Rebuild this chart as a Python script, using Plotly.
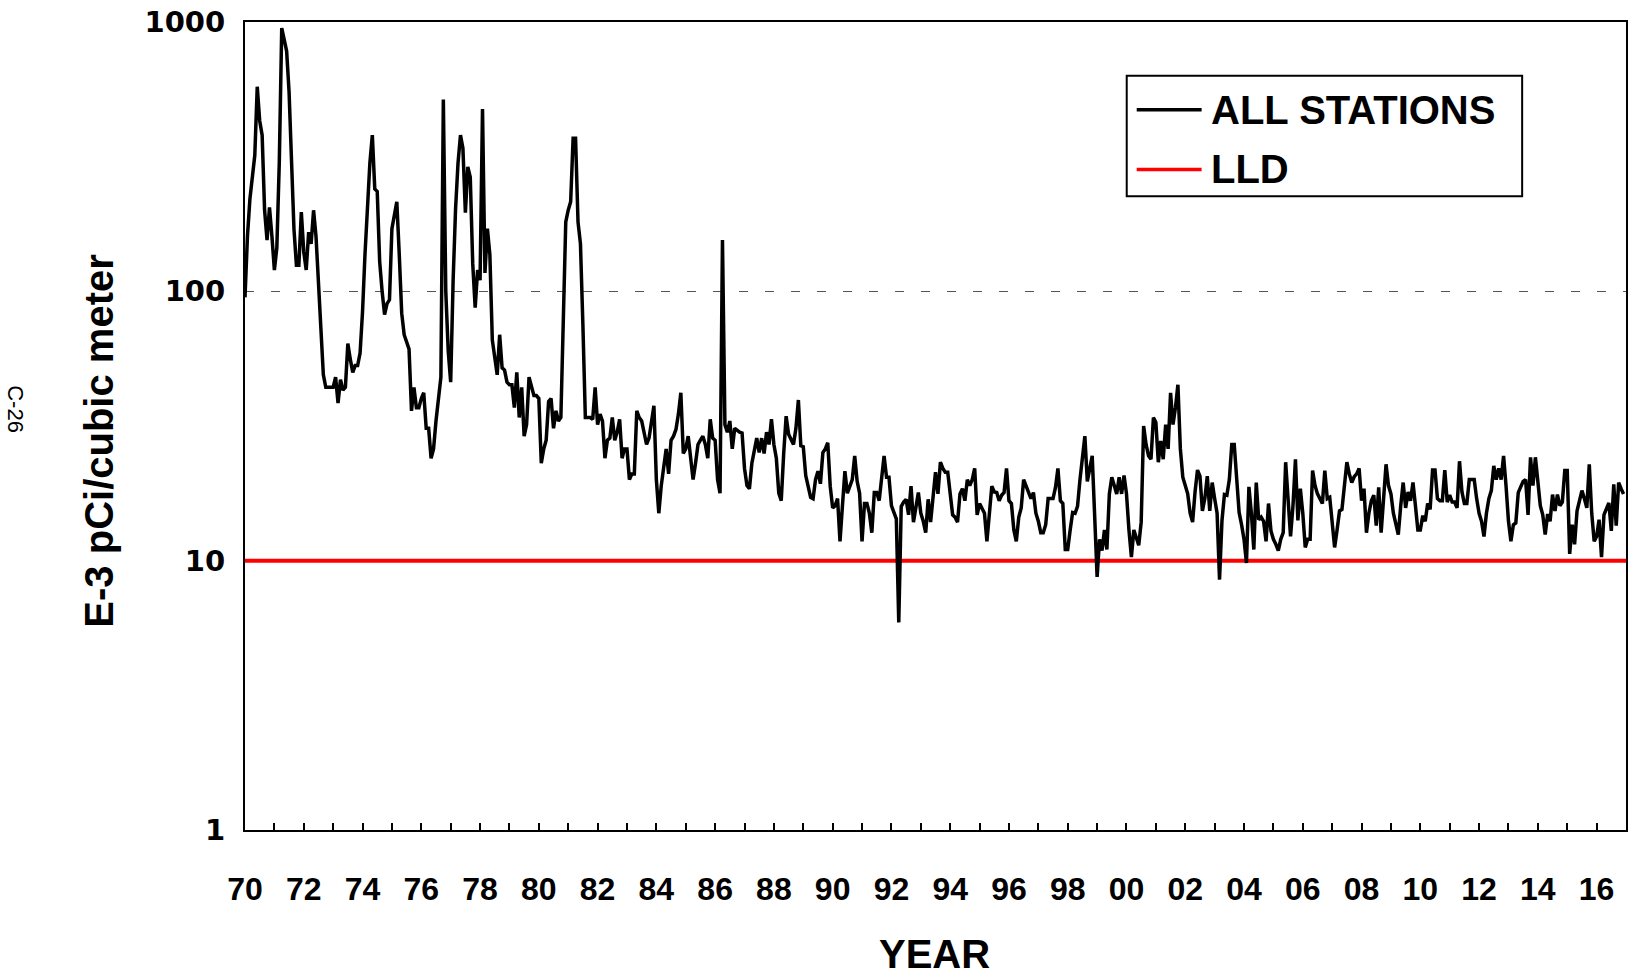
import plotly.graph_objects as go

# Monthly gross beta concentrations, all stations (E-3 pCi per cubic meter)
y1970 = [95, 160, 220, 270, 320, 575, 430, 380, 200, 155, 205, 160]
y1971 = [120, 145, 300, 950, 870, 780, 550, 330, 170, 125, 125, 197]
y1972 = [140, 120, 166, 150, 200, 160, 106, 69, 49, 44, 44, 44]
y1973 = [44, 48, 38.5, 47, 43, 44, 64, 56, 50, 53, 53, 59]
y1974 = [84, 137, 210, 300, 380, 240, 235, 129, 100, 82, 90, 93]
y1975 = [171, 190, 215, 137, 83, 69, 64, 61, 36, 44, 37, 37]
y1976 = [40, 42, 31, 31, 24, 26, 33, 40, 48, 515, 100, 60]
y1977 = [46, 110, 203, 300, 380, 340, 196, 290, 265, 127, 87, 120]
y1978 = [110, 475, 117, 171, 137, 66, 58, 49, 69, 52, 51, 46]
y1979 = [45, 45, 37, 50, 34, 44, 29, 32, 48, 44, 41, 41]
y1980 = [40, 23, 26, 28, 39, 40, 31, 36, 33, 34, 91, 181]
y1981 = [200, 215, 370, 370, 181, 150, 75, 34, 34, 34, 33.5, 44]
y1982 = [32, 35, 33, 24, 28, 28.5, 34, 28, 30, 33.5, 24, 26]
y1983 = [26, 20, 21, 21, 36, 34, 33, 30, 27, 28.5, 33, 37.6]
y1984 = [20, 15, 19, 23, 26, 21, 28, 29, 30.7, 35, 42, 25]
y1985 = [26, 29, 24, 20, 23, 27, 28, 29, 27, 24, 33.5, 28.5]
y1986 = [28, 20, 17.8, 155, 32, 30, 33, 26, 31, 30.5, 30, 29.8]
y1987 = [22, 19, 18.5, 23, 26, 28.5, 25.2, 28.5, 25, 30, 27, 33.5]
y1988 = [27, 24, 17.8, 16.7, 25, 34.4, 29.5, 28, 27, 31, 39.5, 26.7]
y1989 = [26.5, 20.7, 19, 17.2, 17, 20, 21.5, 19.3, 25.2, 26, 27.4, 18.9]
y1990 = [15.7, 16, 17, 11.8, 16, 21.5, 17.8, 18.9, 20, 24.5, 19.7, 17.8]
y1991 = [11.8, 16.3, 16.3, 15, 12.7, 17.9, 17.9, 16.7, 20, 24.5, 20.4, 20.4]
y1992 = [16, 15.1, 14.3, 5.9, 15.9, 16.5, 16.9, 14.8, 18.9, 13.9, 16, 17.9]
y1993 = [15, 14, 12.7, 16.9, 13.9, 17.2, 21.3, 17.7, 23.2, 22, 21.3, 21.3]
y1994 = [18, 14.8, 14.5, 13.9, 17.7, 18.5, 16.7, 20, 19, 20, 22, 14.8]
y1995 = [16.3, 15.5, 15, 11.8, 15, 18.9, 18, 17.9, 16.7, 17.5, 17.9, 22]
y1996 = [16.7, 16.3, 13, 11.8, 14.5, 15.7, 20, 18.9, 18, 17, 17.9, 15]
y1997 = [14, 12.7, 12.7, 13.6, 17, 17, 17, 18.7, 22, 16.7, 16.3, 11]
y1998 = [11, 13, 15.1, 15, 15.9, 20, 24, 29, 19.7, 22, 24.5, 14.7]
y1999 = [8.7, 12, 10.9, 13, 11, 17.7, 20.4, 19, 17.7, 20.4, 17.7, 20.7]
y2000 = [17.7, 13, 10.3, 13, 12, 11.4, 13.9, 31.6, 27, 24.5, 23.8, 34]
y2001 = [32.6, 23.2, 27.8, 23.8, 32, 26, 42, 32, 37, 45, 26, 20.4]
y2002 = [19, 17.7, 15, 13.9, 18, 21.7, 20.6, 15.3, 17, 20.6, 15.3, 19.5]
y2003 = [17, 15, 8.5, 14.1, 17.6, 17.5, 20, 27, 27, 20, 15.1, 13.6]
y2004 = [12, 9.8, 18.8, 15, 11, 19.5, 14.2, 14.5, 14, 11.8, 16.3, 12.9]
y2005 = [12, 11.5, 10.9, 12, 12.7, 23.2, 17, 12.3, 16, 23.8, 14.1, 18.5]
y2006 = [15, 11.2, 12, 12, 21.6, 19, 17.7, 17, 16.3, 21.6, 17, 17.2]
y2007 = [14, 11.2, 13, 15.3, 15.5, 19, 23.2, 21, 19.5, 20.5, 21, 22]
y2008 = [16.7, 18.5, 12.7, 15, 16.7, 17.5, 13.5, 18.7, 12.7, 17, 22.8, 19]
y2009 = [17.7, 15, 13.5, 12.5, 16, 19.5, 15.7, 18, 16.7, 19.5, 16, 13]
y2010 = [13, 14.7, 14, 16.3, 15.5, 21.7, 21.7, 17, 16.7, 16.7, 21.7, 16.5]
y2011 = [17.5, 16.5, 16.5, 15.7, 23.4, 18, 16.3, 16.3, 20, 20, 20, 17]
y2012 = [15, 14, 12.3, 15, 17, 18.2, 22.5, 20, 22, 20, 24.5, 19]
y2013 = [14, 11.8, 13.6, 13.8, 17.9, 18.8, 19.7, 20, 14.8, 24.2, 19, 24.2]
y2014 = [19, 16, 14.8, 12.5, 14.9, 14, 17.6, 15.3, 17.6, 16, 16.5, 21.6]
y2015 = [21.6, 10.6, 13.6, 11.5, 15.3, 17, 18.2, 17, 15.7, 22.8, 15, 11.8]
y2016 = [12.3, 14.2, 10.3, 14.8, 15.5, 16.4, 12.9, 19.2, 13.5, 19.5, 18.5, 17.7]

yearly = [
    y1970, y1971, y1972, y1973, y1974, y1975, y1976, y1977, y1978, y1979,
    y1980, y1981, y1982, y1983, y1984, y1985, y1986, y1987, y1988, y1989,
    y1990, y1991, y1992, y1993, y1994, y1995, y1996, y1997, y1998, y1999,
    y2000, y2001, y2002, y2003, y2004, y2005, y2006, y2007, y2008, y2009,
    y2010, y2011, y2012, y2013, y2014, y2015, y2016,
]
first_year = 1970

# Lower limit of detection
lld_level = 10
lld_span = [1970, 2017]

# Year axis: a tick every year, a two-digit label every other year
year_ticks = list(range(1970, 2017))
year_labels = ["70", "", "72", "", "74", "", "76", "", "78", "", "80", "", "82", "",
               "84", "", "86", "", "88", "", "90", "", "92", "", "94", "", "96", "",
               "98", "", "00", "", "02", "", "04", "", "06", "", "08", "", "10", "",
               "12", "", "14", "", "16"]

y_ticks = [1, 10, 100, 1000]
y_labels = ["1", "10", "100", "1000"]

# Flatten into a monthly series placed at decimal years
values = [v for year in yearly for v in year]
months = [first_year + i / 12 for i in range(len(values))]

W, H = 1633, 980
L, R, T, B = 245, 5, 19, 150
pw, ph = W - L - R, H - T - B


def px(x):
    return (x - L) / pw


def py(y):
    return (H - B - y) / ph


fig = go.Figure()
fig.add_trace(go.Scatter(
    x=lld_span, y=[lld_level, lld_level], mode="lines",
    line=dict(color="#ff0000", width=4), name="LLD", showlegend=False,
    hoverinfo="skip",
))
fig.add_trace(go.Scatter(
    x=months, y=values, mode="lines",
    line=dict(color="#000000", width=3.5), name="ALL STATIONS", showlegend=False,
))

bold = "Liberation Sans"

# Legend box drawn by hand so the samples and text keep their size
legend_shapes = [
    dict(type="rect", xref="paper", yref="paper",
         x0=px(1128), x1=px(1524), y0=py(194), y1=py(73),
         line=dict(color="black", width=2), fillcolor="white", layer="above"),
    dict(type="line", xref="paper", yref="paper",
         x0=px(1138), x1=px(1203), y0=py(107), y1=py(107),
         line=dict(color="black", width=3.5), layer="above"),
    dict(type="line", xref="paper", yref="paper",
         x0=px(1138), x1=px(1203), y0=py(167), y1=py(167),
         line=dict(color="#ff0000", width=3.5), layer="above"),
]

annotations = [
    dict(text="ALL STATIONS", xref="paper", yref="paper", x=px(1210), y=py(107),
         xanchor="left", yanchor="middle", showarrow=False,
         font=dict(family=bold, size=40, color="black", weight="bold")),
    dict(text="LLD", xref="paper", yref="paper", x=px(1210), y=py(167),
         xanchor="left", yanchor="middle", showarrow=False,
         font=dict(family=bold, size=40, color="black", weight="bold")),
    dict(text="E-3 pCi/cubic meter", xref="paper", yref="paper", x=px(99), y=py(440),
         xanchor="center", yanchor="middle", showarrow=False, textangle=-90,
         font=dict(family=bold, size=40, color="black", weight="bold")),
    dict(text="YEAR", xref="paper", yref="paper", x=px(935), y=py(954),
         xanchor="center", yanchor="middle", showarrow=False,
         font=dict(family=bold, size=40, color="black", weight="bold")),
    dict(text="C-26", xref="paper", yref="paper", x=px(15), y=py(408),
         xanchor="center", yanchor="middle", showarrow=False, textangle=90,
         font=dict(family="Liberation Sans", size=22, color="black")),
]

fig.update_layout(
    width=W, height=H,
    margin=dict(l=L, r=R, t=T, b=B, pad=0),
    paper_bgcolor="white", plot_bgcolor="white",
    shapes=legend_shapes, annotations=annotations,
    showlegend=False,
)

fig.update_xaxes(
    range=[1970, 2017], tickmode="array", tickvals=year_ticks, ticktext=year_labels,
    ticks="inside", ticklen=7, tickwidth=1.5, tickcolor="black",
    showline=True, linecolor="black", linewidth=2, mirror=True,
    showgrid=False, zeroline=False,
    tickfont=dict(family=bold, size=32, color="black", weight="bold"),
    ticklabelstandoff=30,
)
fig.update_yaxes(
    type="log", range=[0, 3], tickmode="array", tickvals=y_ticks, ticktext=y_labels,
    ticks="", showline=True, linecolor="black", linewidth=2, mirror=True,
    showgrid=True, gridcolor="#555555", gridwidth=1, griddash="9px,17px",
    zeroline=False,
    tickfont=dict(family="DejaVu Sans", size=29, color="black", weight="bold"),
    ticklabelstandoff=12,
)

fig.write_html("out.html")
